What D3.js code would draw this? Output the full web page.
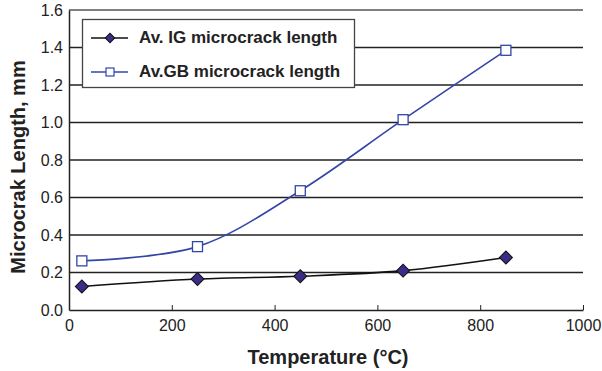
<!DOCTYPE html>
<html>
<head>
<meta charset="utf-8">
<script src="https://cdn.jsdelivr.net/npm/d3@7"></script>
<style>
  body { margin: 0; background: #fff; }
  text { font-family: "Liberation Sans", Arial, sans-serif; fill: #222; }
</style>
</head>
<body>
<script>
// temperatures (°C)
const temps = [25, 250, 450, 650, 850];
// average intergranular microcrack length (mm)
const igLength = [0.125, 0.165, 0.18, 0.21, 0.28];
// average grain-boundary microcrack length (mm)
const gbLength = [0.262, 0.338, 0.636, 1.015, 1.385];
const xTicks = [0, 200, 400, 600, 800, 1000];
const yTicks = [0, 0.2, 0.4, 0.6, 0.8, 1.0, 1.2, 1.4, 1.6];
const seriesNames = ["Av. IG microcrack length", "Av.GB microcrack length"];

const width = 602, height = 371;
const margin = {top: 10, right: 19, bottom: 61, left: 69};
const innerW = width - margin.left - margin.right,
    innerH = height - margin.top - margin.bottom;

const svg = d3.select("body").append("svg")
    .attr("width", width)
    .attr("height", height);

const g = svg.append("g")
    .attr("transform", "translate(" + margin.left + "," + margin.top + ")");

const x = d3.scaleLinear().domain([0, 1000]).range([0, innerW]);
const y = d3.scaleLinear().domain([0, 1.6]).range([innerH, 0]);

// horizontal gridlines
g.append("g")
    .selectAll("line")
    .data(yTicks.filter(d => d > 0))
    .enter()
    .append("line")
    .attr("x1", 0)
    .attr("x2", innerW)
    .attr("y1", d => y(d))
    .attr("y2", d => y(d))
    .attr("stroke", d => d === 1.6 ? "#555" : "#222")
    .attr("stroke-width", 1.3);

// y axis
const yAxis = g.append("g")
    .call(d3.axisLeft(y).tickValues(yTicks).tickFormat(d3.format(".1f")).tickSize(0).tickPadding(6));
yAxis.select(".domain").attr("stroke", "#222").attr("stroke-width", 1.5);
yAxis.selectAll("text").style("font-size", "16px").attr("fill", "#222");

// x axis
const xAxis = g.append("g")
    .attr("transform", "translate(0," + innerH + ")")
    .call(d3.axisBottom(x).tickValues(xTicks).tickFormat(d3.format("d"))
        .tickSizeInner(-5).tickSizeOuter(0).tickPadding(10));
xAxis.select(".domain").attr("stroke", "#222").attr("stroke-width", 1.5);
xAxis.selectAll(".tick line").attr("stroke", "#222");
xAxis.selectAll("text").style("font-size", "16px").attr("fill", "#222");

const line = d3.line()
    .x((d, i) => x(temps[i]))
    .y(d => y(d))
    .curve(d3.curveCardinal.tension(0));

g.append("path")
    .datum(igLength)
    .attr("fill", "none")
    .attr("stroke", "#111")
    .attr("stroke-width", 1.6)
    .attr("d", line);

g.append("path")
    .datum(gbLength)
    .attr("fill", "none")
    .attr("stroke", "#3346a8")
    .attr("stroke-width", 1.6)
    .attr("d", line);

g.append("g")
    .selectAll("path")
    .data(igLength)
    .enter()
    .append("path")
    .attr("transform", (d, i) => `translate(${x(temps[i])},${y(d)}) rotate(45)`)
    .attr("d", d3.symbol().type(d3.symbolSquare).size(85))
    .attr("fill", "#3a2d86")
    .attr("stroke", "#111")
    .attr("stroke-width", 1);

g.append("g")
    .selectAll("rect")
    .data(gbLength)
    .enter()
    .append("rect")
    .attr("x", (d, i) => x(temps[i]) - 5)
    .attr("y", d => y(d) - 5)
    .attr("width", 10)
    .attr("height", 10)
    .attr("fill", "#fff")
    .attr("stroke", "#3346a8")
    .attr("stroke-width", 1.3);

// legend
const legend = svg.append("g");
legend.append("rect")
    .attr("x", 82.5)
    .attr("y", 19.5)
    .attr("width", 272)
    .attr("height", 68)
    .attr("fill", "#fff")
    .attr("stroke", "#444")
    .attr("stroke-width", 1.3);

const legendY = [38, 72];
legend.append("line")
    .attr("x1", 91).attr("x2", 128).attr("y1", legendY[0]).attr("y2", legendY[0])
    .attr("stroke", "#111").attr("stroke-width", 1.6);
legend.append("path")
    .attr("transform", `translate(110,${legendY[0]}) rotate(45)`)
    .attr("d", d3.symbol().type(d3.symbolSquare).size(45))
    .attr("fill", "#3a2d86")
    .attr("stroke", "#111");
legend.append("line")
    .attr("x1", 91).attr("x2", 128).attr("y1", legendY[1]).attr("y2", legendY[1])
    .attr("stroke", "#3346a8").attr("stroke-width", 1.6);
legend.append("rect")
    .attr("x", 106).attr("y", legendY[1] - 4).attr("width", 8).attr("height", 8)
    .attr("fill", "#fff").attr("stroke", "#3346a8").attr("stroke-width", 1.2);

legend.selectAll("text.lab")
    .data(seriesNames)
    .enter()
    .append("text")
    .attr("class", "lab")
    .attr("x", 139)
    .attr("y", (d, i) => [43, 77][i])
    .style("font-size", "17px")
    .style("font-weight", "bold")
    .text(d => d);

// axis titles
svg.append("text")
    .attr("x", 328)
    .attr("y", 364)
    .style("text-anchor", "middle")
    .style("font-size", "20px")
    .style("font-weight", "bold")
    .text("Temperature (°C)");

svg.append("text")
    .attr("transform", "rotate(-90)")
    .attr("x", -167)
    .attr("y", 25)
    .style("text-anchor", "middle")
    .style("font-size", "20px")
    .style("font-weight", "bold")
    .text("Microcrak Length, mm");
</script>
</body>
</html>
